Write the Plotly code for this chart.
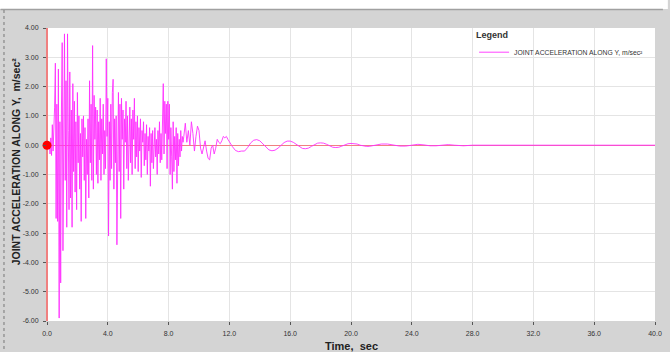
import plotly.graph_objects as go

# ---- data ----
time_strong = [
    0.00, 0.05, 0.10, 0.15, 0.20, 0.25, 0.30, 0.35, 0.40, 0.45,
    0.50, 0.55, 0.60, 0.65, 0.70, 0.75, 0.80, 0.85, 0.90, 0.95,
    1.00, 1.05, 1.10, 1.15, 1.20, 1.25, 1.30, 1.35, 1.40, 1.45,
    1.50, 1.55, 1.60, 1.65, 1.70, 1.75, 1.80, 1.85, 1.90, 1.95,
    2.00, 2.05, 2.10, 2.15, 2.20, 2.25, 2.30, 2.35, 2.40, 2.45,
    2.50, 2.55, 2.60, 2.65, 2.70, 2.75, 2.80, 2.85, 2.90, 2.95,
    3.00, 3.05, 3.10, 3.15, 3.20, 3.25, 3.30, 3.35, 3.40, 3.45,
    3.50, 3.55, 3.60, 3.65, 3.70, 3.75, 3.80, 3.85, 3.90, 3.95,
    4.00, 4.05, 4.10, 4.15, 4.20, 4.25, 4.30, 4.35, 4.40, 4.45,
    4.50, 4.55, 4.60, 4.65, 4.70, 4.75, 4.80, 4.85, 4.90, 4.95,
    5.00, 5.05, 5.10, 5.15, 5.20, 5.25, 5.30, 5.35, 5.40, 5.45,
    5.50, 5.55, 5.60, 5.65, 5.70, 5.75, 5.80, 5.85, 5.90, 5.95,
    6.00, 6.05, 6.10, 6.15, 6.20, 6.25, 6.30, 6.35, 6.40, 6.45,
    6.50, 6.55, 6.60, 6.65, 6.70, 6.75, 6.80, 6.85, 6.90, 6.95,
    7.00, 7.05, 7.10, 7.15, 7.20, 7.25, 7.30, 7.35, 7.40, 7.45,
    7.50, 7.55, 7.60, 7.65, 7.70, 7.75, 7.80, 7.85, 7.90, 7.95,
    8.00, 8.05, 8.10, 8.15, 8.20, 8.25, 8.30, 8.35, 8.40, 8.45,
    8.50, 8.55, 8.60, 8.65, 8.70, 8.75, 8.80, 8.85, 8.90, 8.95,
]
accel_strong = [
    0.00, 0.02, -0.05, 0.10, -0.30, 0.25, -0.35, 0.70, -0.20, 0.45,
    1.30, 2.80, -2.50, 1.40, -2.60, 2.60, -5.90, 0.80, -4.70, 1.20,
    3.50, -3.60, 1.80, 3.80, -1.20, 2.20, -2.80, 3.80, 0.50, -2.20,
    2.50, -1.80, 1.20, -2.80, 2.10, -0.90, 1.50, -1.60, 0.80, -2.20,
    1.80, -0.60, 1.00, -1.50, 0.40, -2.60, 0.90, -0.40, 1.00, -1.20,
    0.60, -2.50, 0.20, -1.00, 0.90, -1.80, 2.20, -0.60, 1.40, -1.20,
    3.40, -1.50, 1.70, 0.20, 1.30, -1.00, 1.20, -1.30, 0.80, -0.50,
    1.60, -1.20, 0.90, -0.30, 1.40, -1.00, 0.50, -0.80, 2.95, 0.30,
    1.60, -3.10, 0.80, -1.20, 1.40, -0.80, 1.80, 2.25, -1.50, 0.90,
    -0.60, 1.00, -3.40, 0.60, 1.80, -0.90, 1.40, -2.50, 1.60, 0.20,
    1.20, -1.50, 0.90, 0.10, 1.50, -0.80, 1.00, -1.20, 0.70, 1.30,
    -0.60, 0.90, -1.00, 1.20, 0.20, 1.60, -0.80, 0.80, -0.40, 1.00,
    -0.90, 0.60, -0.20, 0.90, -1.10, 0.50, 0.10, 0.80, -0.70, 0.40,
    -0.50, 0.70, -1.00, 0.30, -0.20, 0.60, -1.40, 0.40, -0.60, 0.50,
    -0.80, 0.30, 0.60, -0.40, 0.20, -1.00, 0.50, -0.30, 0.80, -0.60,
    0.40, -0.50, 1.20, 2.10, -0.30, 1.50, 0.40, 1.40, -0.80, 1.50,
    0.20, 1.40, -1.00, 0.60, -0.40, -1.50, 0.80, -0.90, 0.30, -0.50,
    0.60, -1.30, 0.40, -0.70, 0.20, -0.40, 0.50, -0.20, 0.30, 0.10,
]
time_decay = [
    9.0, 9.1, 9.2, 9.3, 9.4, 9.5, 9.6, 9.7, 9.8, 9.9,
    10.0, 10.1, 10.2, 10.3, 10.4, 10.5, 10.6, 10.7, 10.8, 10.9,
    11.0, 11.1, 11.2, 11.3, 11.4, 11.5, 11.6, 11.7, 11.8, 11.9,
    12.0, 12.2, 12.4, 12.6, 12.8, 13.0, 13.2, 13.4, 13.6, 13.8,
    14.0, 14.2, 14.4, 14.6, 14.8, 15.0, 15.2, 15.4, 15.6, 15.8,
    16.0, 16.2, 16.4, 16.6, 16.8, 17.0, 17.2, 17.4, 17.6, 17.8,
    18.0, 18.2, 18.4, 18.6, 18.8, 19.0, 19.2, 19.4, 19.6, 19.8,
    20.0, 20.2, 20.4, 20.6, 20.8, 21.0, 21.2, 21.4, 21.6, 21.8,
    22.0, 22.4, 22.8, 23.2, 23.6, 24.0, 24.4, 24.8, 25.2, 25.6,
    26.0, 26.4, 26.8, 27.4, 28.0, 29.0, 30.0, 31.0, 32.0, 33.0,
    34.0, 36.0, 38.0, 40.0,
]
accel_decay = [
    0.30, 0.75, 0.10, 0.50, 0.00, 0.80, 0.40, -0.20, 0.30, 0.65,
    0.50, -0.10, -0.30, -0.10, 0.15, -0.20, -0.45, -0.50, -0.10, 0.00,
    -0.30, -0.10, 0.20, 0.10, 0.05, 0.15, 0.30, 0.25, 0.30, 0.20,
    0.10, -0.05, -0.18, -0.22, -0.20, -0.20, -0.08, 0.08, 0.17, 0.19,
    0.15, 0.05, -0.08, -0.16, -0.19, -0.17, -0.10, 0.00, 0.09, 0.14,
    0.14, 0.10, 0.03, -0.05, -0.11, -0.12, -0.10, -0.04, 0.02, 0.07,
    0.08, 0.07, 0.03, -0.03, -0.07, -0.08, -0.07, -0.03, 0.02, 0.05,
    0.06, 0.06, 0.04, 0.00, -0.03, -0.04, -0.04, -0.02, 0.01, 0.03,
    0.04, 0.04, 0.00, -0.03, -0.03, 0.00, 0.03, 0.01, -0.02, -0.02,
    0.01, 0.02, 0.00, -0.02, 0.00, 0.00, -0.01, 0.00, 0.00, -0.01,
    0.00, 0.00, -0.01, 0.00,
]
marker_t = [0.0]
marker_a = [0.0]

x_ticks = [0, 4, 8, 12, 16, 20, 24, 28, 32, 36, 40]
x_tick_labels = ["0.0", "4.0", "8.0", "12.0", "16.0", "20.0", "24.0", "28.0", "32.0", "36.0", "40.0"]
y_ticks = [-6, -5, -4, -3, -2, -1, 0, 1, 2, 3, 4]
y_tick_labels = ["-6.00", "-5.00", "-4.00", "-3.00", "-2.00", "-1.00", "0.00", "1.00", "2.00", "3.00", "4.00"]

series_name = "JOINT ACCELERATION ALONG Y, m/sec²"
y_title = "JOINT ACCELERATION ALONG Y,  m/sec²"
x_title = "Time,  sec"

FONT = "Liberation Sans, Arial, sans-serif"
GRAY = "#d4d4d4"
W, H = 670, 352
ML, MR, MT, MB = 47, 8, 28, 31
PW, PH = W - ML - MR, H - MT - MB


def px_x(p):
    return (p - ML) / PW


def px_y(p):
    return (H - MB - p) / PH


fig = go.Figure()
fig.add_trace(go.Scatter(
    x=time_strong + time_decay, y=accel_strong + accel_decay,
    mode="lines", name=series_name,
    line=dict(color="#ff30ff", width=0.9),
))
fig.add_trace(go.Scatter(
    x=marker_t, y=marker_a, mode="markers", showlegend=False,
    marker=dict(color="#ff0000", size=9), cliponaxis=False,
))

axis_common = dict(
    showgrid=True, gridcolor="#e4e4e4", gridwidth=1,
    ticks="outside", ticklen=3, tickcolor="#555555", tickwidth=1,
    tickfont=dict(family=FONT, size=7, color="#333333"),
    showline=False, mirror=False,
)
fig.update_xaxes(range=[0, 40], tickvals=x_ticks, ticktext=x_tick_labels,
                 zeroline=True, zerolinecolor="#f08080", zerolinewidth=2,
                 ticklabelstandoff=3, **axis_common)
fig.update_yaxes(range=[-6, 4], tickvals=y_ticks, ticktext=y_tick_labels,
                 zeroline=True, zerolinecolor="#f08080", zerolinewidth=1,
                 ticklabelstandoff=3, **axis_common)

shapes = [
    # white strip at the top of the window
    dict(type="rect", xref="paper", yref="paper",
         x0=px_x(-5), x1=px_x(W + 5), y0=px_y(9), y1=px_y(-5),
         fillcolor="#ffffff", line=dict(width=0), layer="above"),
    dict(type="line", xref="paper", yref="paper",
         x0=px_x(0), x1=px_x(W), y0=px_y(9.5), y1=px_y(9.5),
         line=dict(color="#a0a0a0", width=1.5), layer="above"),
    # dotted frame edge on the left
    dict(type="line", xref="paper", yref="paper",
         x0=px_x(3.5), x1=px_x(3.5), y0=px_y(10), y1=px_y(H),
         line=dict(color="#777777", width=1, dash="dot"), layer="above"),
]

annotations = [
    dict(text="<b>" + y_title + "</b>", xref="paper", yref="paper",
         x=px_x(16), y=px_y(161), textangle=-90, showarrow=False,
         font=dict(family=FONT, size=10.5, color="#222222"),
         xanchor="center", yanchor="middle"),
    dict(text="<b>" + x_title + "</b>", xref="paper", yref="paper",
         x=px_x(355), y=px_y(346), showarrow=False,
         font=dict(family=FONT, size=11, color="#222222"),
         xanchor="center", yanchor="middle"),
]

fig.update_layout(
    width=W, height=H,
    margin=dict(l=ML, r=MR, t=MT, b=MB),
    paper_bgcolor=GRAY, plot_bgcolor="#ffffff",
    showlegend=True,
    legend=dict(
        x=px_x(479), y=px_y(26), xanchor="left", yanchor="top",
        bgcolor="rgba(0,0,0,0)", borderwidth=0,
        title=dict(text="<b>Legend</b>", font=dict(family=FONT, size=9, color="#333333")),
        font=dict(family=FONT, size=6.8, color="#333333"),
        itemwidth=30, tracegroupgap=0,
    ),
    shapes=shapes,
    annotations=annotations,
)

fig.write_html("out.html")
